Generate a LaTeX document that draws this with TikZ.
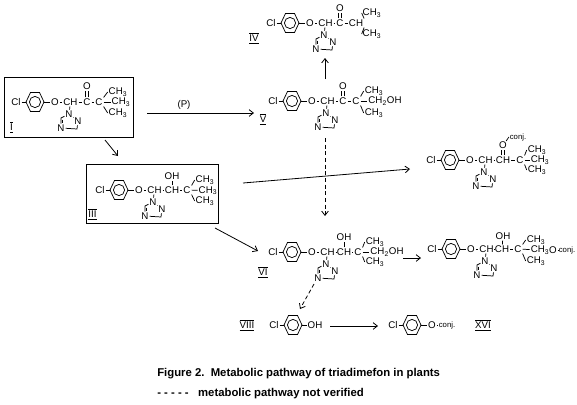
\documentclass[tikz,border=0pt]{standalone}
\usepackage{fontspec}
\setmainfont{Liberation Sans}
\usetikzlibrary{arrows.meta}
\tikzset{
  atom/.style={inner sep=0.6pt,font=\fontsize{7.3}{8}\selectfont},
  small/.style={inner sep=0.5pt,font=\fontsize{5.8}{6}\selectfont},
  tag/.style={inner sep=0pt,font=\fontsize{7.3}{8}\selectfont},
  caption/.style={anchor=west,inner sep=0pt,font=\fontsize{8.5}{10}\selectfont\bfseries},
  bond/.style={line width=0.55pt},
  path1/.style={line width=0.6pt,-{Straight Barb[length=3.2pt,width=5pt]}},
  path2/.style={path1,dash pattern=on 3pt off 2pt},
  molbox/.style={draw,line width=0.7pt,inner sep=0pt}
}
\newcommand{\numeral}[1]{$\overline{\underline{\hbox{#1}}}$}
\newcommand{\dblbond}[2]{%
  \draw[bond] ([xshift=-0.9pt]#1.north) -- ([xshift=-0.9pt]#2.south);
  \draw[bond] ([xshift=0.9pt]#1.north) -- ([xshift=0.9pt]#2.south);}
\newcommand{\chlorring}[3]{%
  \begin{scope}[shift={(#2,#3)}]
    \draw[bond] (-9,0) -- (-4.5,-9.5) -- (4.5,-9.5) -- (9,0) -- (4.5,9.5) -- (-4.5,9.5) -- cycle;
    \draw[bond] (0,0) circle (4.2pt);
    \coordinate (#1left) at (-9,0);
    \coordinate (#1right) at (9,0);
    \node[atom] (#1Cl) at (-19,0) {Cl};
    \draw[bond] (#1Cl) -- (#1left);
  \end{scope}}
\newcommand{\triazole}[3]{%
  \begin{scope}[shift={(#2,#3)}]
    \node[atom] (#1N) at (0,0) {N};
    \node[atom] (#1Nb) at (9,7) {N};
    \node[atom] (#1Nc) at (-8,14) {N};
    \coordinate (#1d) at (8,15);
    \coordinate (#1e) at (-8,4);
    \draw[bond] (#1N) -- (#1e) -- (#1Nc) -- (#1d) -- (#1Nb) -- (#1N);
    \draw[bond] (-6.5,5.5) -- (-6.5,9);
  \end{scope}}
\newcommand{\etherhead}[3]{%
  \chlorring{#1}{#2}{#3}
  \begin{scope}[shift={(#2,#3)}]
    \node[atom] (#1O) at (20,0) {O};
    \node[atom] (#1CH) at (35.5,0) {CH};
    \draw[bond] (#1right) -- (#1O);
    \draw[bond] (#1O) -- (#1CH);
  \end{scope}
  \triazole{#1}{#2+34}{#3+12}
  \draw[bond] (#1CH) -- (#1N);}
\begin{document}
\begin{tikzpicture}[x=0.75pt,y=-0.75pt]
\useasboundingbox (0,0) rectangle (577,404);
% I
\node[molbox,minimum width=96.75pt,minimum height=45pt] (boxI) at (68.5,107) {};
\etherhead{a}{35}{102}
\node[atom] (aC) at (87,102) {C};
\node[atom] (aO2) at (87,86.5) {O};
\node[atom] (aC2) at (99,102) {C};
\node[atom] (aMa) at (118,92) {CH\textsubscript{3}};
\node[atom] (aMb) at (121,102) {CH\textsubscript{3}};
\node[atom] (aMc) at (118,113) {CH\textsubscript{3}};
\draw[bond] (aCH) -- (aC);
\draw[bond] (aC) -- (aC2);
\dblbond{aC}{aO2}
\draw[bond] (aC2.north east) -- (aMa.west);
\draw[bond] (aC2) -- (aMb);
\draw[bond] (aC2.south east) -- (aMc.west);
\node[tag] (tagI) at (11.5,127) {\numeral{I}};
% IV
\etherhead{b}{290}{23}
\node[atom] (bC) at (340,23) {C};
\node[atom] (bO2) at (340,8) {O};
\node[atom] (bC2) at (356,23) {CH};
\node[atom] (bMa) at (372,13) {CH\textsubscript{3}};
\node[atom] (bMc) at (372,34) {CH\textsubscript{3}};
\draw[bond] (bCH) -- (bC);
\draw[bond] (bC) -- (bC2);
\dblbond{bC}{bO2}
\draw[bond] (bC2.north east) -- (bMa.west);
\draw[bond] (bC2.south east) -- (bMc.west);
\node[tag] (tagIV) at (254,38) {\numeral{IV}};
% V
\etherhead{c}{292}{101}
\node[atom] (cC) at (343,101) {C};
\node[atom] (cO2) at (343,86) {O};
\node[atom] (cC2) at (356,101) {C};
\node[atom] (cMa) at (374,91) {CH\textsubscript{3}};
\node[atom] (cMb) at (385,101) {CH\textsubscript{2}OH};
\node[atom] (cMc) at (374,113) {CH\textsubscript{3}};
\draw[bond] (cCH) -- (cC);
\draw[bond] (cC) -- (cC2);
\dblbond{cC}{cO2}
\draw[bond] (cC2.north east) -- (cMa.west);
\draw[bond] (cC2) -- (cMb);
\draw[bond] (cC2.south east) -- (cMc.west);
\node[tag] (tagV) at (263,119) {\numeral{V}};
% III
\node[molbox,minimum width=99pt,minimum height=44.25pt] (boxIII) at (152,193.5) {};
\etherhead{d}{119}{190}
\node[atom] (dC) at (172,190) {CH};
\node[atom] (dO2) at (172,176) {OH};
\node[atom] (dC2) at (187,190) {C};
\node[atom] (dMa) at (205,180) {CH\textsubscript{3}};
\node[atom] (dMb) at (208,190.5) {CH\textsubscript{3}};
\node[atom] (dMc) at (205,201) {CH\textsubscript{3}};
\draw[bond] (dCH) -- (dC);
\draw[bond] (dC) -- (dC2);
\draw[bond] (dC) -- (dO2);
\draw[bond] (dC2.north east) -- (dMa.west);
\draw[bond] (dC2) -- (dMb);
\draw[bond] (dC2.south east) -- (dMc.west);
\node[tag] (tagIII) at (92.5,214) {\numeral{III}};
% conjugate of III
\etherhead{e}{450}{160}
\node[atom] (eC) at (503,160) {CH};
\node[atom] (eO2) at (503,145.5) {O};
\node[small] (eConj) at (518,137) {conj.};
\node[atom] (eC2) at (520,160) {C};
\node[atom] (eMa) at (537,150) {CH\textsubscript{3}};
\node[atom] (eMb) at (540,160) {CH\textsubscript{3}};
\node[atom] (eMc) at (537,170) {CH\textsubscript{3}};
\draw[bond] (eCH) -- (eC);
\draw[bond] (eC) -- (eC2);
\dblbond{eC}{eO2}
\draw[bond] (eO2) -- (eConj.west);
\draw[bond] (eC2.north east) -- (eMa.west);
\draw[bond] (eC2) -- (eMb);
\draw[bond] (eC2.south east) -- (eMc.west);
% VI
\etherhead{f}{292}{252}
\node[atom] (fC) at (344,252) {CH};
\node[atom] (fO2) at (344,237) {OH};
\node[atom] (fC2) at (358,252) {C};
\node[atom] (fMa) at (375,242) {CH\textsubscript{3}};
\node[atom] (fMb) at (387,252) {CH\textsubscript{2}OH};
\node[atom] (fMc) at (375,262) {CH\textsubscript{3}};
\draw[bond] (fCH) -- (fC);
\draw[bond] (fC) -- (fC2);
\draw[bond] (fC) -- (fO2);
\draw[bond] (fC2.north east) -- (fMa.west);
\draw[bond] (fC2) -- (fMb);
\draw[bond] (fC2.south east) -- (fMc.west);
\node[tag] (tagVI) at (263,272) {\numeral{VI}};
% conjugate of VI
\etherhead{g}{451}{249}
\node[atom] (gC) at (502,249) {CH};
\node[atom] (gO2) at (503,236) {OH};
\node[atom] (gC2) at (518,249) {C};
\node[atom] (gMa) at (536,240) {CH\textsubscript{3}};
\node[atom] (gMb) at (540,250) {CH\textsubscript{3}};
\node[atom] (gMc) at (536,261) {CH\textsubscript{3}};
\node[atom] (gO3) at (553,250) {O};
\node[small] (gConj) at (567,250) {conj.};
\draw[bond] (gCH) -- (gC);
\draw[bond] (gC) -- (gC2);
\draw[bond] (gC) -- (gO2);
\draw[bond] (gC2.north east) -- (gMa.west);
\draw[bond] (gC2) -- (gMb);
\draw[bond] (gC2.south east) -- (gMc.west);
\draw[bond] (gO3) -- (gConj);
% VIII
\chlorring{h}{293}{325}
\node[atom] (hOH) at (315,325) {OH};
\draw[bond] (hright) -- (hOH);
\node[tag] (tagVIII) at (247,325) {\numeral{VIII}};
% XVI
\chlorring{k}{412}{325}
\node[atom] (kO) at (432,325) {O};
\node[small] (kConj) at (447,325) {conj.};
\draw[bond] (kright) -- (kO);
\draw[bond] (kO) -- (kConj);
\node[tag] (tagXVI) at (483,325) {\numeral{XVI}};
% pathways
\coordinate (pa) at (147,113);
\coordinate (pb) at (254,113);
\coordinate (qa) at (105,140);
\coordinate (qb) at (118,156);
\coordinate (ra) at (325,79);
\coordinate (rb) at (325,58);
\coordinate (sa) at (325,138);
\coordinate (sb) at (325,216);
\coordinate (ta) at (243,183);
\coordinate (tb) at (410,169);
\coordinate (ua) at (215,228);
\coordinate (ub) at (258,251);
\coordinate (va) at (314,284);
\coordinate (vb) at (300,309);
\coordinate (wa) at (403,258);
\coordinate (wb) at (421,258);
\coordinate (xa) at (330,326);
\coordinate (xb) at (378,326);
\draw[path1] (pa) -- (pb);
\node[atom] (labelP) at (184,105) {(P)};
\draw[path1] (qa) -- (qb);
\draw[path1] (ra) -- (rb);
\draw[path2] (sa) -- (sb);
\draw[path1] (ta) -- (tb);
\draw[path1] (ua) -- (ub);
\draw[path2] (va) -- (vb);
\draw[path1] (wa) -- (wb);
\draw[path1] (xa) -- (xb);
% caption
\node[caption] (capA) at (157,374) {Figure 2.\ \ Metabolic pathway of triadimefon in plants};
\node[caption] (capB) at (157,394) {- - - - -\ \ \ metabolic pathway not verified};
\end{tikzpicture}
\end{document}
